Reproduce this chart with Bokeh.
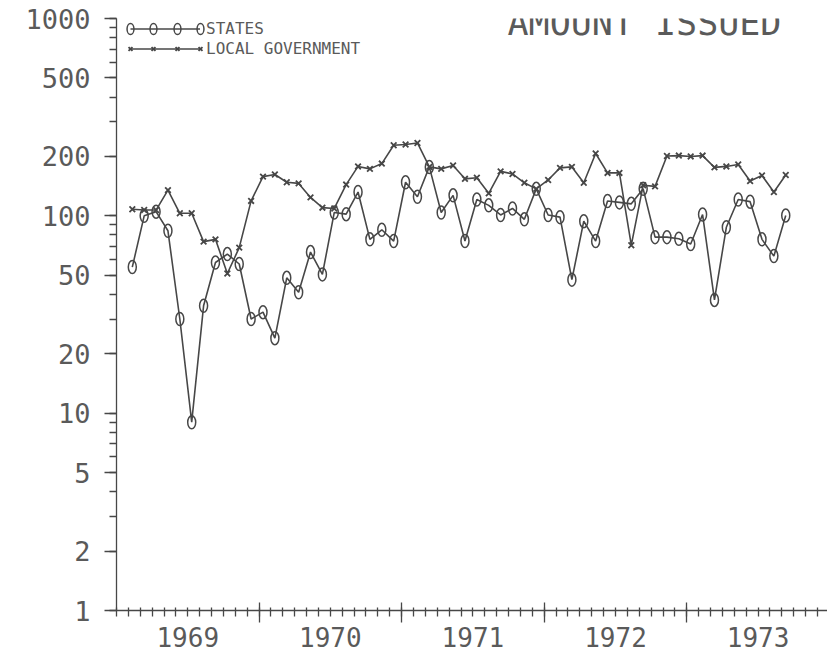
import pandas as pd
from bokeh.plotting import figure
from bokeh.models import (Range1d, LogScale, LinearAxis, LogAxis, FixedTicker,
                          PrintfTickFormatter, Legend, LegendItem, Label)
from bokeh.embed import file_html
from bokeh.resources import INLINE

# ---------------- data ----------------
start_month = "1969-02"
states = [55, 100, 105, 84, 30, 9, 35, 58, 64, 57,
          30, 32.5, 24, 48.5, 41, 65.5, 50.5, 104, 102, 132,
          76, 85, 74.5, 148, 125, 177, 104, 127, 74.5, 121,
          113, 101, 109, 96, 137, 101, 98.5, 47.5, 94, 74.5,
          119, 117, 115, 137, 78, 78, 76.5, 72, 101.5, 37.5,
          87.5, 121, 118, 76, 62.5, 100.5]
local_gov = [108, 107, 107, 135, 103, 103, 74, 76, 51, 69,
             119, 158, 162, 148, 146, 124, 110, 109, 144, 178,
             173, 184, 228, 230, 234, 177, 173, 180, 154, 156,
             130, 168, 163, 147, 137, 152, 175, 177, 147, 207,
             165, 165, 71, 143, 141, 201, 202, 200, 202, 176,
             178, 182, 150, 160, 132, 161]
years = [1969, 1970, 1971, 1972, 1973]
year_labels = ["1969", "1970", "1971", "1972", "1973"]
y_ticks = [1, 2, 5, 10, 20, 50, 100, 200, 500, 1000]
series_names = ["STATES", "LOCAL GOVERNMENT"]
title_text = "AMOUNT ISSUED"

months = pd.period_range(start_month, periods=len(states), freq="M")
x = [m.year + (m.month - 1 + 0.33) / 12 for m in months]

FONT = "DejaVu Sans Mono"
INK = "#474747"
TXT = "#5a5a5a"

PX_PER_YEAR = 142.57
FRAME_W = 711

p = figure(width=827, height=655, output_backend="svg", toolbar_location=None,
           x_axis_location=None, y_axis_location=None,
           x_range=Range1d(1969, 1969 + FRAME_W / PX_PER_YEAR),
           y_range=Range1d(1, 1000), y_axis_type="log",
           min_border_left=116, min_border_right=0,
           min_border_top=18, min_border_bottom=45)
p.y_scale = LogScale()
p.outline_line_color = None
p.background_fill_color = "white"
p.border_fill_color = "white"
p.grid.visible = False

# ---------------- axes ----------------
y_minor = [d * k for d in (1, 10, 100) for k in range(1, 10)] + [1000]
ya = LogAxis(ticker=FixedTicker(ticks=y_ticks, minor_ticks=y_minor),
             formatter=PrintfTickFormatter(format="%d"),
             axis_line_color=INK, axis_line_width=1.3,
             major_tick_line_color=INK, major_tick_line_width=1.3,
             minor_tick_line_color=INK, minor_tick_line_width=1.3,
             major_tick_in=0, major_tick_out=12,
             minor_tick_in=0, minor_tick_out=7,
             major_label_standoff=14,
             major_label_text_font=FONT, major_label_text_font_size="27px",
             major_label_text_color=TXT)
p.add_layout(ya, "left")

# axis nearest the frame: line, month ticks and long year-boundary ticks
x_minor = [1969 + i / 12 for i in range(61)]
xa = LinearAxis(ticker=FixedTicker(ticks=years[1:], minor_ticks=x_minor),
                major_label_overrides={yy: "" for yy in years},
                axis_line_color=INK, axis_line_width=1.3,
                major_tick_line_color=INK, major_tick_line_width=1.3,
                minor_tick_line_color=INK, minor_tick_line_width=1.3,
                major_tick_in=8, major_tick_out=12,
                minor_tick_in=3, minor_tick_out=6,
                major_label_standoff=0,
                major_label_text_font_size="0px")
p.add_layout(xa, "below")

# year labels, centred on each year
xb = LinearAxis(ticker=FixedTicker(ticks=[yy + 0.5 for yy in years], minor_ticks=[]),
                major_label_overrides={yy + 0.5: lab for yy, lab in zip(years, year_labels)},
                axis_line_color=None, major_tick_line_color=None,
                major_tick_in=0, major_tick_out=0,
                major_label_standoff=4,
                major_label_text_font=FONT, major_label_text_font_size="26px",
                major_label_text_color=TXT)
p.add_layout(xb, "below")

# ---------------- series ----------------
r_s_line = p.line(x, states, line_color=INK, line_width=1.6)
r_s_mark = p.ellipse(x, states, width=8, height=13, width_units="screen",
                     height_units="screen", fill_color=None, line_color=INK,
                     line_width=1.5)
r_l_line = p.line(x, local_gov, line_color=INK, line_width=1.6)
r_l_mark = p.scatter(x, local_gov, marker="x", size=8, line_color=INK,
                     line_width=1.8)

# ---------------- legend: key line + four key markers per series ----------------
common = dict(padding=0, margin=0, spacing=0, border_line_color=None,
              background_fill_alpha=0, label_text_font=FONT,
              label_text_font_size="16px", label_text_color=TXT,
              glyph_height=19)
key_rows = [(series_names[0], r_s_line, r_s_mark, 572),
            (series_names[1], r_l_line, r_l_mark, 552)]
for name, r_line, r_mark, vy in key_rows:
    p.add_layout(Legend(items=[LegendItem(label=name, renderers=[r_line])],
                        location=(14, vy), glyph_width=70, label_standoff=6,
                        **common))
    for k in range(4):
        cx = 14 + k * 70 / 3
        p.add_layout(Legend(items=[LegendItem(label=" ", renderers=[r_mark])],
                            location=(cx - 7, vy), glyph_width=14,
                            label_standoff=0, label_width=0, **common))

title = Label(x=391, y=588, x_units="screen", y_units="screen", text=title_text,
              text_font=FONT, text_font_size="35px", text_color=TXT,
              text_baseline="alphabetic")
p.add_layout(title)

open("out.html", "w").write(file_html(p, INLINE))
